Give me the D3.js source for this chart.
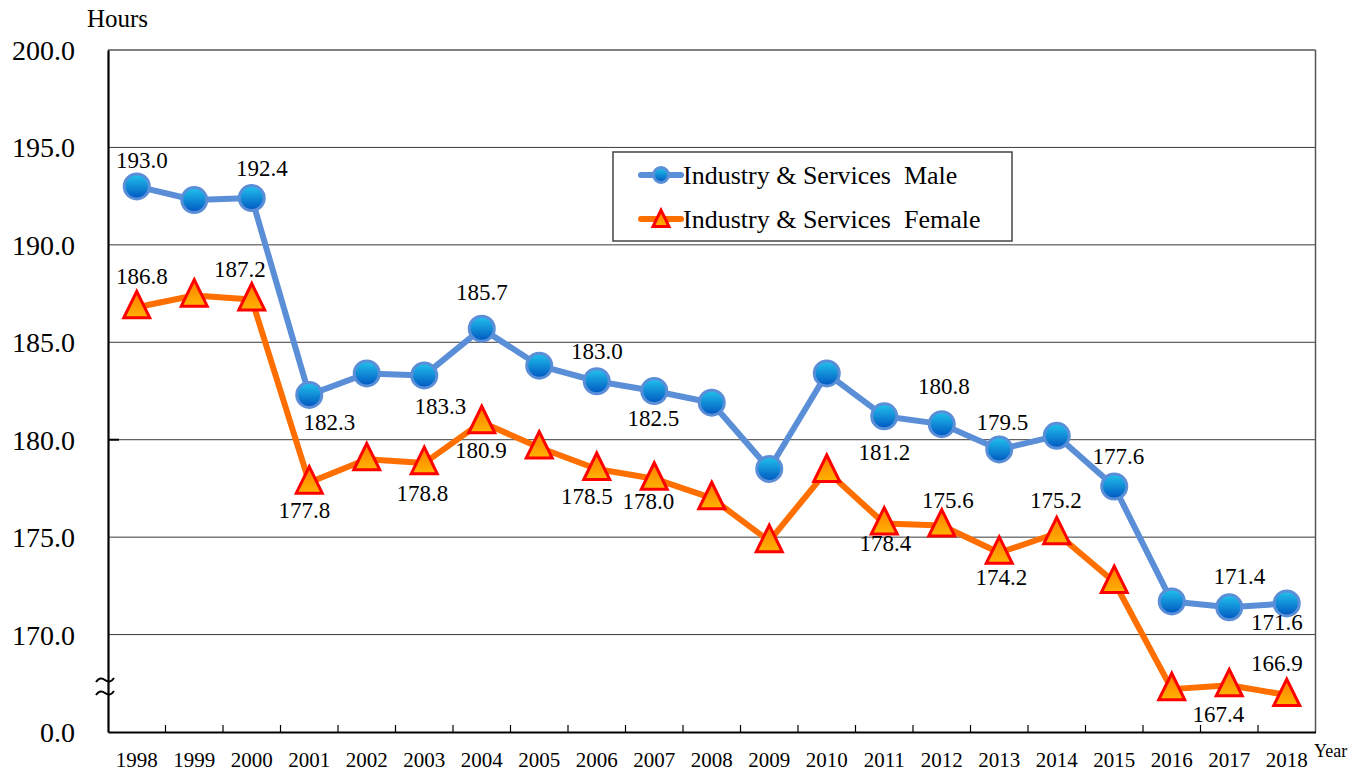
<!DOCTYPE html>
<html>
<head>
<meta charset="utf-8">
<script src="https://cdn.jsdelivr.net/npm/d3@7"></script>
<style>
  html, body { margin: 0; padding: 0; background: #fff; }
  svg { display: block; }
</style>
</head>
<body>
<svg id="chart" width="1370" height="773"></svg>
<script>
// ---------- data ----------
const years = [1998, 1999, 2000, 2001, 2002, 2003, 2004, 2005, 2006, 2007, 2008, 2009, 2010, 2011, 2012, 2013, 2014, 2015, 2016, 2017, 2018];
const maleValues   = [193.0, 192.3, 192.4, 182.3, 183.4, 183.3, 185.7, 183.8, 183.0, 182.5, 181.9, 178.5, 183.4, 181.2, 180.8, 179.5, 180.2, 177.6, 171.7, 171.4, 171.6];
const femaleValues = [186.8, 187.4, 187.2, 177.8, 179.0, 178.8, 180.9, 179.6, 178.5, 178.0, 177.0, 174.8, 178.4, 175.7, 175.6, 174.2, 175.2, 172.7, 167.2, 167.4, 166.9];
const yTickValues = [165, 170, 175, 180, 185, 190, 195, 200];
const yTickLabels = ["0.0", "170.0", "175.0", "180.0", "185.0", "190.0", "195.0", "200.0"];
const seriesNames = ["Industry & Services  Male", "Industry & Services  Female"];
// data labels as shown in the picture: [year anchor, text]
const maleLabelYears  = [1998, 2000, 2001, 2003, 2004, 2006, 2007, 2011, 2012, 2013, 2015, 2017, 2018];
const maleLabelTexts  = ["193.0", "192.4", "182.3", "183.3", "185.7", "183.0", "182.5", "181.2", "180.8", "179.5", "177.6", "171.4", "171.6"];
const femaleLabelYears = [1998, 2000, 2001, 2003, 2004, 2006, 2007, 2011, 2012, 2013, 2014, 2017, 2018];
const femaleLabelTexts = ["186.8", "187.2", "177.8", "178.8", "180.9", "178.5", "178.0", "178.4", "175.6", "174.2", "175.2", "167.4", "166.9"];

// ---------- layout (label offsets relative to their point) ----------
const maleLabelOffsets = [[5,-26],[10,-30],[20,27],[16,31],[0,-37],[0,-30],[-1,27],[0,36],[2,-38],[3,-28],[4,-31],[10,-31],[-10,19]];
const femaleLabelOffsets = [[5,-31],[-12,-30],[-5,27],[-2,30],[-1,28],[-10,27],[-6,22],[1,19],[6,-26],[2,24],[-1,-33],[-11,29],[-10,-32]];

const SERIF = '"Liberation Serif", "Times New Roman", serif';
const svg = d3.select("#chart").style("font-family", SERIF);
const mLeft = 108, mRight = 1315.5, mTop = 50, mBottom = 732;

const x = d3.scaleBand().domain(years).range([mLeft, mRight]).paddingInner(0).paddingOuter(0);
const y = d3.scaleLinear().domain([165, 200]).range([mBottom, mTop]);
const cx = d => x(d) + x.bandwidth() / 2;

function txt(g, tx, ty, s, size) {
  return g.append("text").attr("x", tx).attr("y", ty).attr("dy", "0.35em")
    .style("font-family", SERIF).style("font-size", size + "px").attr("fill", "#000").text(s);
}

const defs = svg.append("defs");
const gBlue = defs.append("linearGradient").attr("id", "gBlue").attr("x1", 0).attr("y1", 0).attr("x2", 0).attr("y2", 1);
gBlue.append("stop").attr("offset", "0%").attr("stop-color", "#22C4EE");
gBlue.append("stop").attr("offset", "100%").attr("stop-color", "#0055C0");
const gOrange = defs.append("linearGradient").attr("id", "gOrange").attr("x1", 0).attr("y1", 0).attr("x2", 0).attr("y2", 1);
gOrange.append("stop").attr("offset", "0%").attr("stop-color", "#FF7A00");
gOrange.append("stop").attr("offset", "100%").attr("stop-color", "#FFB400");

// gridlines
svg.append("g").selectAll("line").data(yTickValues.filter(v => v > 165 && v < 200)).join("line")
  .attr("x1", mLeft).attr("x2", mRight).attr("y1", d => y(d)).attr("y2", d => y(d))
  .attr("stroke", "#3a3a3a").attr("stroke-width", 1);
// top & right border
svg.append("line").attr("x1", mLeft).attr("x2", mRight).attr("y1", y(200)).attr("y2", y(200)).attr("stroke", "#555").attr("stroke-width", 1.5);
svg.append("line").attr("x1", mRight).attr("x2", mRight).attr("y1", y(200)).attr("y2", mBottom).attr("stroke", "#555").attr("stroke-width", 1.5);

// y axis
const yAxis = d3.axisLeft(y).tickValues(yTickValues).tickSize(0).tickPadding(33)
  .tickFormat((d, i) => yTickLabels[i]);
const yg = svg.append("g").attr("transform", `translate(${mLeft},0)`).call(yAxis);
yg.attr("font-family", null).attr("font-size", null);
yg.select(".domain").attr("stroke", "#000").attr("stroke-width", 2.2);
yg.selectAll("text").style("font-family", SERIF).style("font-size", "28px").attr("fill", "#000").attr("dy", "0.34em");
// small inner mark at 180
svg.append("line").attr("x1", mLeft).attr("x2", mLeft + 11).attr("y1", y(180)).attr("y2", y(180)).attr("stroke", "#000").attr("stroke-width", 2);

// x axis
const xAxis = d3.axisBottom(x).tickSize(0).tickPadding(20);
const xg = svg.append("g").attr("transform", `translate(0,${mBottom})`).call(xAxis);
xg.attr("font-family", null).attr("font-size", null);
xg.select(".domain").attr("stroke", "#000").attr("stroke-width", 2);
xg.selectAll("text").style("font-family", SERIF).style("font-size", "21px").attr("fill", "#000");
// category boundary ticks (inside)
svg.append("g").selectAll("line").data(years.slice(1)).join("line")
  .attr("x1", d => x(d)).attr("x2", d => x(d)).attr("y1", mBottom).attr("y2", mBottom - 7)
  .attr("stroke", "#000").attr("stroke-width", 1.2);

// axis break symbol
const brk = svg.append("g").attr("fill", "none").attr("stroke", "#000").attr("stroke-width", 2);
[681, 694].forEach(yy => {
  brk.append("path").attr("d", `M${mLeft-12},${yy+1} q4,-6 9,-2 q5,4 9,-2`);
});
txt(svg, 148, 18, "Hours", 25).attr("text-anchor", "end");
txt(svg, 1314, 751, "Year", 18);

// lines
const line = d3.line().x((d, i) => cx(years[i])).y(d => y(d));
svg.append("path").datum(maleValues).attr("d", line).attr("fill", "none").attr("stroke", "#5A8FD8").attr("stroke-width", 6).attr("stroke-linejoin", "round");
svg.append("path").datum(femaleValues).attr("d", line).attr("fill", "none").attr("stroke", "#FF6F00").attr("stroke-width", 6).attr("stroke-linejoin", "round");

// markers
function circleMarker(g, px, py, r) {
  g.append("circle").attr("cx", px).attr("cy", py).attr("r", r)
    .attr("fill", "url(#gBlue)").attr("stroke", "#5A8FD8").attr("stroke-width", 3);
}
function triMarker(g, px, py, s) {
  const h = s * 1.02;
  g.append("path")
    .attr("d", `M${px},${py - h*0.6} L${px + s/2},${py + h*0.4} L${px - s/2},${py + h*0.4} Z`)
    .attr("fill", "url(#gOrange)").attr("stroke", "#FF0000").attr("stroke-width", 3).attr("stroke-linejoin", "miter");
}
const mg = svg.append("g");
maleValues.forEach((v, i) => circleMarker(mg, cx(years[i]), y(v), 12.5));
const fg = svg.append("g");
femaleValues.forEach((v, i) => triMarker(fg, cx(years[i]), y(v), 26));

// data labels
const lg = svg.append("g");
maleLabelYears.forEach((yr, k) => {
  const i = years.indexOf(yr);
  txt(lg, cx(yr) + maleLabelOffsets[k][0], y(maleValues[i]) + maleLabelOffsets[k][1], maleLabelTexts[k], 23).attr("text-anchor", "middle");
});
femaleLabelYears.forEach((yr, k) => {
  const i = years.indexOf(yr);
  txt(lg, cx(yr) + femaleLabelOffsets[k][0], y(femaleValues[i]) + femaleLabelOffsets[k][1], femaleLabelTexts[k], 23).attr("text-anchor", "middle");
});

// legend
const leg = svg.append("g");
leg.append("rect").attr("x", 613).attr("y", 152).attr("width", 399).attr("height", 89)
  .attr("fill", "#fff").attr("stroke", "#444").attr("stroke-width", 1.5);
const legRows = [175, 219];
leg.append("line").attr("x1", 641).attr("x2", 681).attr("y1", legRows[0]).attr("y2", legRows[0]).attr("stroke", "#5A8FD8").attr("stroke-width", 6).attr("stroke-linecap", "round");
circleMarker(leg, 661, legRows[0], 7.5);
leg.append("line").attr("x1", 641).attr("x2", 681).attr("y1", legRows[1]).attr("y2", legRows[1]).attr("stroke", "#FF6F00").attr("stroke-width", 6).attr("stroke-linecap", "round");
triMarker(leg, 661, legRows[1] + 1, 16);
seriesNames.forEach((n, i) => {
  txt(leg, 683, legRows[i], n, 26).style("white-space", "pre").attr("xml:space", "preserve");
});
</script>
</body>
</html>
